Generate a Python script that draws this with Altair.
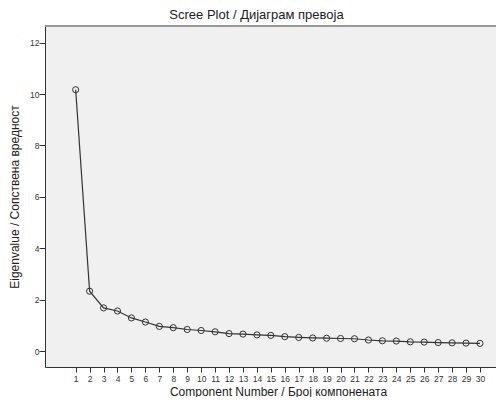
import altair as alt
import pandas as pd

components = list(range(1, 31))
eigenvalues = [10.17, 2.33, 1.68, 1.56, 1.29, 1.13, 0.96, 0.91, 0.84, 0.80,
               0.75, 0.68, 0.66, 0.63, 0.61, 0.56, 0.53, 0.51, 0.50, 0.49,
               0.48, 0.43, 0.40, 0.39, 0.36, 0.35, 0.33, 0.32, 0.31, 0.30]
x_ticks = list(range(1, 31))
y_ticks = [0, 2, 4, 6, 8, 10, 12]

df = pd.DataFrame({"comp": components, "eig": eigenvalues})

FONT = "Liberation Sans"
W, H = 451, 341

x = alt.X("comp:Q", scale=alt.Scale(domain=[-1.2, 31.15], nice=False, zero=False),
          axis=alt.Axis(values=x_ticks, title="Component Number / Број компонената",
                        grid=False, tickSize=5, labelPadding=2, labelFontSize=8.5,
                        labelColor="#333", titleFontSize=12, titleFontWeight="normal",
                        titleColor="#222", domainColor="#333",
                        tickColor="#333", labelFont=FONT, titleFont=FONT,
                        titleX=233, titleY=28, titleBaseline="alphabetic"))
y = alt.Y("eig:Q", scale=alt.Scale(domain=[-0.62, 12.65], nice=False, zero=False),
          axis=alt.Axis(values=y_ticks, title="Eigenvalue / Сопствена вредност",
                        grid=False, tickSize=6, labelPadding=0, labelFontSize=8.5,
                        labelColor="#333", titleFontSize=12, titleFontWeight="normal",
                        titleColor="#222", domainColor="#333",
                        tickColor="#333", labelFont=FONT, titleFont=FONT,
                        titleX=-26.5, titleBaseline="alphabetic"))

base = alt.Chart(df)
line = base.mark_line(color="#333", strokeWidth=1.2).encode(x=x, y=y)
pts = base.mark_point(filled=False, color="#333", size=38, strokeWidth=1,
                      opacity=1).encode(x=x, y=y)
top = alt.Chart(df).mark_rule(color="#999", strokeWidth=1.6).encode(
    x=alt.value(0), x2=alt.value(W), y=alt.value(0))

chart = alt.layer(line, pts, top).properties(
    width=W, height=H,
    title=alt.Title("Scree Plot / Дијаграм превоја", fontSize=13, fontWeight="normal",
                    font=FONT, color="#222", dx=-14, offset=3),
    autosize=alt.AutoSizeParams(type="none"),
    padding={"left": 37, "top": 18, "right": 0, "bottom": 30},
    background="white",
).configure_view(fill="#f0f0f0", stroke=None)

chart.save("out.html", embed_options={"renderer": "svg", "actions": False})
